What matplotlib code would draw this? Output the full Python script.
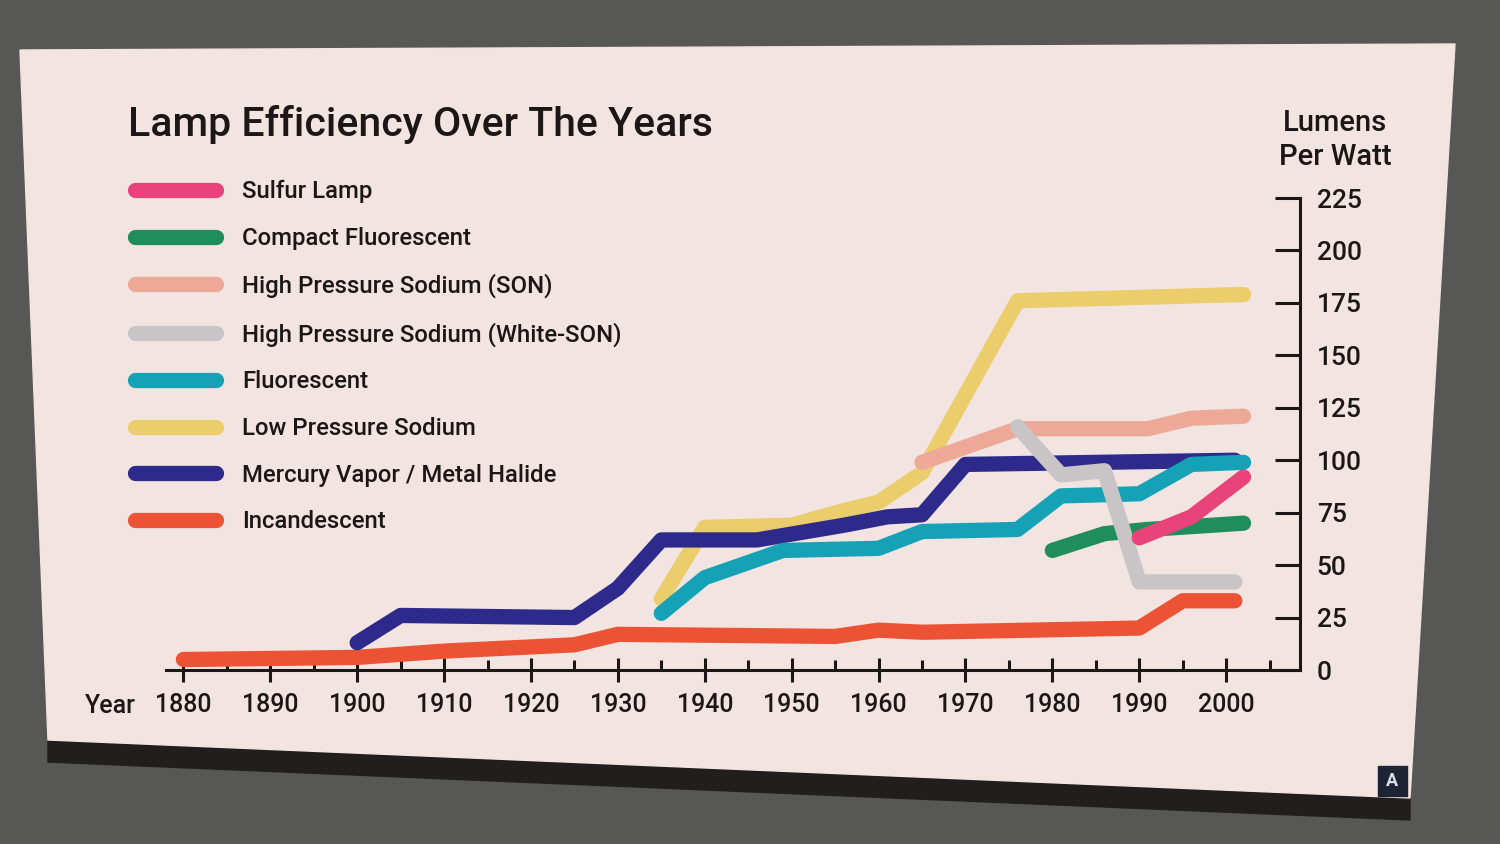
import matplotlib
matplotlib.use("Agg")
import matplotlib.pyplot as plt
from matplotlib.patches import Polygon

plt.rcParams['font.family'] = ['Roboto', 'Liberation Sans', 'DejaVu Sans']
plt.rcParams['font.weight'] = 'medium'
ink = '#1c1616'

# series, in legend order (top to bottom)
names = ['Sulfur Lamp', 'Compact Fluorescent', 'High Pressure Sodium (SON)',
         'High Pressure Sodium (White-SON)', 'Fluorescent', 'Low Pressure Sodium',
         'Mercury Vapor / Metal Halide', 'Incandescent']
colors = ['#e8437a', '#1f8e5c', '#eea898', '#c9c4c6', '#16a2b6', '#eccd6c',
          '#2e2a8c', '#ec5234']

sulfur_yr = [1990, 1996, 2002]
sulfur_lpw = [63, 73, 92]
cfl_yr = [1980, 1986, 1991, 2002]
cfl_lpw = [57, 65, 67, 70]
son_yr = [1965, 1976, 1991, 1996, 2002]
son_lpw = [99, 115, 115, 120, 121]
wson_yr = [1976, 1981, 1986, 1990, 2001]
wson_lpw = [116, 93, 95, 42, 42]
fluor_yr = [1935, 1940, 1949, 1960, 1965, 1976, 1981, 1990, 1996, 2002]
fluor_lpw = [27, 44, 57, 58, 66, 67, 83, 84, 98, 99]
lps_yr = [1935, 1940, 1950, 1956, 1960, 1965, 1976, 2002]
lps_lpw = [34, 68, 69, 76, 80, 94, 176, 179]
merc_yr = [1900, 1905, 1925, 1930, 1935, 1946, 1956, 1961, 1965, 1970, 2001]
merc_lpw = [13, 26, 25, 39, 62, 62, 69, 73, 74, 98, 100]
inc_yr = [1880, 1900, 1910, 1920, 1925, 1930, 1955, 1960, 1965, 1990, 1995, 2001]
inc_lpw = [5, 6, 9, 11, 12, 17, 16, 19, 18, 20, 33, 33]

years = [sulfur_yr, cfl_yr, son_yr, wson_yr, fluor_yr, lps_yr, merc_yr, inc_yr]
lpw = [sulfur_lpw, cfl_lpw, son_lpw, wson_lpw, fluor_lpw, lps_lpw, merc_lpw, inc_lpw]
# drawing order, bottom to top
zorders = [9, 7, 5, 8, 6, 3, 4, 2]

fig = plt.figure(figsize=(15, 8.44), dpi=100)
fig.patch.set_facecolor('#575856')

# the sign board behind the chart
bg = fig.add_axes([0, 0, 1, 1], zorder=-1)
bg.set_xlim(0, 1500)
bg.set_ylim(844, 0)
bg.axis('off')
bg.add_patch(Polygon([(48, 738), (1410, 796), (1410, 820), (48, 762)], color='#221e1d'))
bg.add_patch(Polygon([(20, 50), (1455, 44), (1410, 798), (48, 740)], color='#f1e4e1'))
bg.add_patch(Polygon([(1378, 766), (1407, 766), (1407, 796), (1378, 796)], color='#1c2436'))
bg.text(1392, 781, 'A', color='#e0e0e8', fontsize=13, fontweight='bold', ha='center', va='center')

ax = fig.add_axes([166 / 1500, 1 - 670 / 844, (1300 - 166) / 1500, (670 - 198) / 844])
ax.set_facecolor('none')

for i in range(len(names)):
    ax.plot(years[i], lpw[i], color=colors[i], lw=11, solid_capstyle='round',
            solid_joinstyle='round', label=names[i], zorder=zorders[i])

ax.set_xlim(1878, 2008.5)
ax.set_ylim(0, 225)
ax.set_xticks(range(1880, 2001, 10))
ax.set_xticks(range(1885, 2006, 10), minor=True)
ax.set_yticks(range(0, 226, 25))
ax.yaxis.tick_right()
for s in ['left', 'top']:
    ax.spines[s].set_visible(False)
for s in ['right', 'bottom']:
    ax.spines[s].set_linewidth(2.2)
    ax.spines[s].set_color(ink)
ax.tick_params(axis='x', which='major', direction='inout', length=17, width=2.2,
               pad=8, labelsize=18, colors=ink)
ax.tick_params(axis='x', which='minor', direction='in', length=7, width=2.2, colors=ink)
ax.tick_params(axis='y', direction='in', length=18, width=2.2, pad=12,
               labelsize=19, colors=ink)

ax.annotate('Year', xy=(0, 0), xycoords='axes fraction', xytext=(-22, -17),
            textcoords='offset points', ha='right', va='top', fontsize=18, color=ink)
fig.text(1335 / 1500, 1 - 140 / 844, 'Lumens\nPer Watt', ha='center', va='center',
         fontsize=21, color=ink, linespacing=1.25)
fig.text(128 / 1500, 1 - 124 / 844, 'Lamp Efficiency Over The Years', ha='left',
         va='center', fontsize=29.5, color=ink)

leg = fig.legend(loc='upper left', bbox_to_anchor=(135 / 1500, 1 - 180 / 844),
                 frameon=False, fontsize=17.2, borderpad=0, borderaxespad=0,
                 handlelength=3.4, handletextpad=1.1, labelspacing=0.99)
for t in leg.get_texts():
    t.set_color(ink)

fig.savefig('out.png', dpi=100, facecolor=fig.get_facecolor())
